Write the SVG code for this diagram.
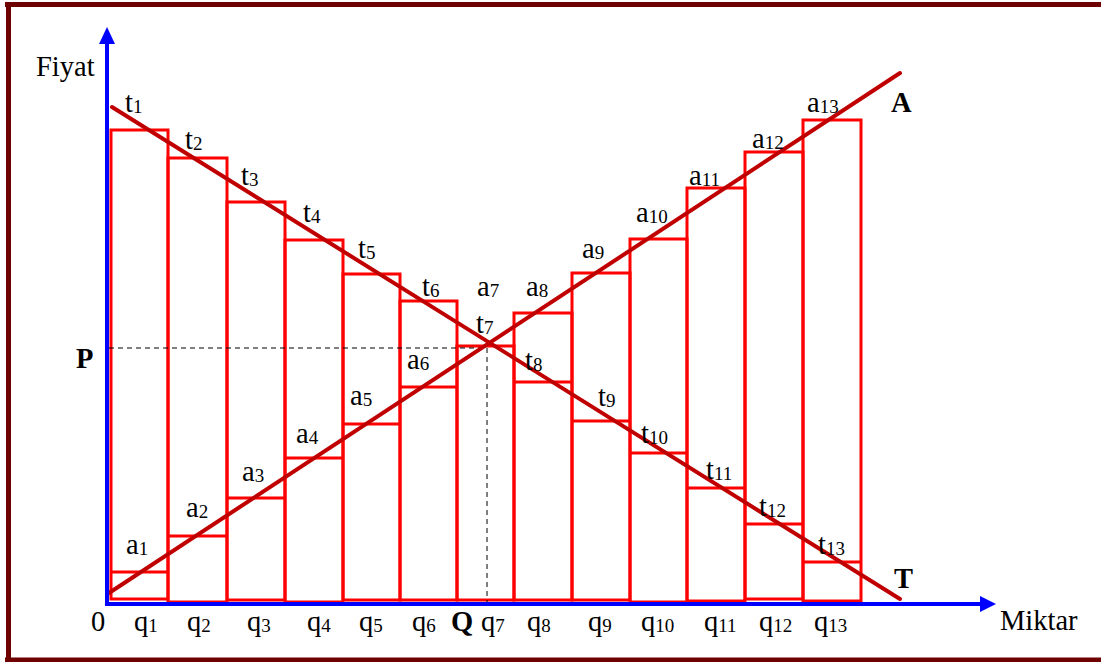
<svg xmlns="http://www.w3.org/2000/svg" width="1101" height="662" viewBox="0 0 1101 662">
<style>
.frame{stroke:#6e0000;stroke-width:5;fill:none}
.ax{stroke:#0000ff;stroke-width:4;fill:none}
.bar{stroke:#ff0000;stroke-width:3;fill:none}
.curve{stroke:#c00000;stroke-width:4;fill:none;stroke-linecap:round}
.dash{stroke:#000;stroke-width:1;stroke-dasharray:5 4;fill:none}
.b{font-weight:bold}
.s{font-size:19px}
</style>
<rect width="1101" height="662" fill="#fff"/>
<g id="frame">
<line class="frame" x1="5" y1="4.5" x2="1101" y2="4.5"/>
<line class="frame" x1="8.5" y1="2" x2="8.5" y2="662"/>
<line class="frame" x1="5" y1="660" x2="1101" y2="660"/>
</g>
<g id="bars">
<g id="bar1"><rect class="bar" x="111" y="130" width="57" height="469"/><line class="bar" x1="111" y1="572" x2="168" y2="572"/></g>
<g id="bar2"><rect class="bar" x="168" y="158" width="59" height="444"/><line class="bar" x1="168" y1="536" x2="227" y2="536"/></g>
<g id="bar3"><rect class="bar" x="227" y="202" width="58" height="398"/><line class="bar" x1="227" y1="498" x2="285" y2="498"/></g>
<g id="bar4"><rect class="bar" x="285" y="240" width="58" height="362"/><line class="bar" x1="285" y1="458" x2="343" y2="458"/></g>
<g id="bar5"><rect class="bar" x="343" y="274" width="57" height="326"/><line class="bar" x1="343" y1="424" x2="400" y2="424"/></g>
<g id="bar6"><rect class="bar" x="400" y="301" width="57" height="299"/><line class="bar" x1="400" y1="387" x2="457" y2="387"/></g>
<g id="bar7"><rect class="bar" x="457" y="346" width="57" height="254"/></g>
<g id="bar8"><rect class="bar" x="514" y="313" width="58" height="287"/><line class="bar" x1="514" y1="382" x2="572" y2="382"/></g>
<g id="bar9"><rect class="bar" x="572" y="273" width="58" height="327"/><line class="bar" x1="572" y1="421" x2="630" y2="421"/></g>
<g id="bar10"><rect class="bar" x="630" y="239" width="57" height="363"/><line class="bar" x1="630" y1="453" x2="687" y2="453"/></g>
<g id="bar11"><rect class="bar" x="687" y="188" width="58" height="413"/><line class="bar" x1="687" y1="488" x2="745" y2="488"/></g>
<g id="bar12"><rect class="bar" x="745" y="152" width="58" height="447"/><line class="bar" x1="745" y1="524" x2="803" y2="524"/></g>
<g id="bar13"><rect class="bar" x="803" y="120" width="58" height="481"/><line class="bar" x1="803" y1="562" x2="861" y2="562"/></g>
</g>
<g id="connectors">
<line class="dash" x1="109" y1="348" x2="487" y2="348"/>
<line class="dash" x1="487" y1="348" x2="487" y2="602"/>
<line class="curve" x1="112" y1="107" x2="900" y2="599"/>
<line class="curve" x1="109" y1="593" x2="900" y2="73"/>
<line class="ax" x1="107" y1="42" x2="107" y2="606"/>
<polygon points="107,27 99,44 115,44" fill="#0000ff"/>
<line class="ax" x1="105" y1="604" x2="982" y2="604"/>
<polygon points="996,604 980,596 980,612" fill="#0000ff"/>
</g>
<g id="labels" font-family="'Liberation Serif', 'Times New Roman', 'DejaVu Serif', serif" font-size="28.5" fill="#000">
<text x="36" y="76">Fiyat</text>
<text x="1000" y="630">Miktar</text>
<text x="91" y="631">0</text>
<text class="b" x="76" y="368">P</text>
<text class="b" x="451" y="631">Q</text>
<text class="b" x="891" y="112">A</text>
<text class="b" x="894" y="588">T</text>
<text x="125" y="112">t<tspan class="s" dy="1">1</tspan></text>
<text x="185" y="149">t<tspan class="s" dy="1">2</tspan></text>
<text x="241" y="185">t<tspan class="s" dy="1">3</tspan></text>
<text x="303" y="222">t<tspan class="s" dy="1">4</tspan></text>
<text x="358" y="258">t<tspan class="s" dy="1">5</tspan></text>
<text x="422" y="296">t<tspan class="s" dy="1">6</tspan></text>
<text x="476" y="333">t<tspan class="s" dy="1">7</tspan></text>
<text x="525" y="370">t<tspan class="s" dy="1">8</tspan></text>
<text x="598" y="406">t<tspan class="s" dy="1">9</tspan></text>
<text x="641" y="443">t<tspan class="s" dy="1">10</tspan></text>
<text x="706" y="479">t<tspan class="s" dy="1">11</tspan></text>
<text x="759" y="516">t<tspan class="s" dy="1">12</tspan></text>
<text x="818" y="554">t<tspan class="s" dy="1">13</tspan></text>
<text x="126" y="554">a<tspan class="s" dy="1">1</tspan></text>
<text x="186" y="517">a<tspan class="s" dy="1">2</tspan></text>
<text x="242" y="481">a<tspan class="s" dy="1">3</tspan></text>
<text x="296" y="443">a<tspan class="s" dy="1">4</tspan></text>
<text x="350" y="405">a<tspan class="s" dy="1">5</tspan></text>
<text x="407" y="369">a<tspan class="s" dy="1">6</tspan></text>
<text x="477" y="296">a<tspan class="s" dy="1">7</tspan></text>
<text x="526" y="296">a<tspan class="s" dy="1">8</tspan></text>
<text x="582" y="258">a<tspan class="s" dy="1">9</tspan></text>
<text x="636" y="222">a<tspan class="s" dy="1">10</tspan></text>
<text x="689" y="185">a<tspan class="s" dy="1">11</tspan></text>
<text x="752" y="148">a<tspan class="s" dy="1">12</tspan></text>
<text x="807" y="112">a<tspan class="s" dy="1">13</tspan></text>
<text x="134" y="631">q<tspan class="s" dy="1">1</tspan></text>
<text x="187" y="631">q<tspan class="s" dy="1">2</tspan></text>
<text x="247" y="631">q<tspan class="s" dy="1">3</tspan></text>
<text x="307" y="631">q<tspan class="s" dy="1">4</tspan></text>
<text x="359" y="631">q<tspan class="s" dy="1">5</tspan></text>
<text x="412" y="631">q<tspan class="s" dy="1">6</tspan></text>
<text x="481" y="631">q<tspan class="s" dy="1">7</tspan></text>
<text x="527" y="631">q<tspan class="s" dy="1">8</tspan></text>
<text x="588" y="631">q<tspan class="s" dy="1">9</tspan></text>
<text x="641" y="631">q<tspan class="s" dy="1">10</tspan></text>
<text x="704" y="631">q<tspan class="s" dy="1">11</tspan></text>
<text x="759" y="631">q<tspan class="s" dy="1">12</tspan></text>
<text x="814" y="631">q<tspan class="s" dy="1">13</tspan></text>
</g>
</svg>
